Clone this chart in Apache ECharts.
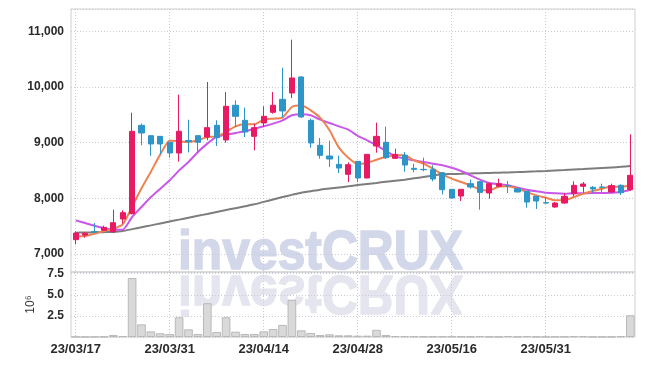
<!DOCTYPE html>
<html>
<head>
<meta charset="utf-8">
<style>html,body{margin:0;padding:0;background:#fff}#c{width:645px;height:366px}</style>
<script src="https://cdn.jsdelivr.net/npm/echarts@6/dist/echarts.min.js"></script>
</head>
<body>
<div id="c"></div>
<script>
const dates = ['23/03/17','23/03/20','23/03/21','23/03/22','23/03/23','23/03/24','23/03/27','23/03/28','23/03/29','23/03/30',
'23/03/31','23/04/03','23/04/04','23/04/05','23/04/06','23/04/07','23/04/10','23/04/11','23/04/12','23/04/13',
'23/04/14','23/04/17','23/04/18','23/04/19','23/04/20','23/04/21','23/04/24','23/04/25','23/04/26','23/04/27',
'23/04/28','23/05/02','23/05/03','23/05/04','23/05/08','23/05/09','23/05/10','23/05/11','23/05/12','23/05/15',
'23/05/16','23/05/17','23/05/18','23/05/19','23/05/22','23/05/23','23/05/24','23/05/25','23/05/26','23/05/30',
'23/05/31','23/06/01','23/06/02','23/06/05','23/06/07','23/06/08','23/06/09','23/06/12','23/06/13','23/06/14'];

const opens  = [7258,7340,7400,7425,7400,7629,7725,9312,9126,9114, 9007,8815,9041,9126,9102,9312,9049,9672,9402,9114,
                9354,9546,9779,9893,10181,9402,8953,8761,8611,8432, 8665,8366,8941,9007,8719,8773,8539,8521,8515,8462,
                8162,8042,8264,8300,8096,8216,8228,8174,8126,8036, 7922,7845,7916,8084,8216,8198,8204,8114,8234,8156];
const closes = [7377,7371,7395,7479,7563,7743,9204,9174,8977,8977, 8815,9204,9020,9007,9270,9090,9654,9474,9192,9270,
                9474,9672,9570,10163,9462,8995,8773,8707,8545,8605, 8366,8791,9114,8731,8791,8599,8521,8515,8348,8156,
                8006,8162,8204,8108,8264,8264,8222,8114,7934,7952, 7916,7916,8036,8234,8258,8168,8198,8228,8102,8414];
const lows   = [7174,7293,7377,7413,7377,7545,7713,8953,8767,8791, 8731,8659,8826,8815,9043,8941,9001,9282,9102,8863,
                9282,9522,9450,9803,9450,8911,8713,8563,8455,8294, 8294,8360,8821,8707,8707,8480,8468,8486,8306,8073,
                8000,7952,8174,7797,7994,8204,8096,8108,7833,7809, 7904,7833,7904,8036,8102,8102,8114,8102,8060,8132];
const highs  = [7407,7395,7557,7509,7797,7785,9540,9342,9130,9120, 9013,9863,9413,9130,10091,9402,9911,9761,9630,9342,
                9654,9911,10348,10851,10193,9432,9085,9037,8767,8647, 8670,8795,9360,9288,8893,8833,8623,8731,8593,8466,
                8166,8166,8336,8304,8268,8354,8312,8204,8130,8040, 8024,7934,8096,8306,8294,8222,8264,8264,8252,9150];

const ma5  = [7317,7323,7365,7413,7455,7533,7850,8180,8480,8790, 9040,9025,9013,9043,9102,9110,9192,9294,9330,9330,
              9414,9432,9450,9642,9672,9582,9450,9222,8911,8731, 8617,8635,8695,8743,8773,8773,8683,8623,8533,8432,
              8354,8294,8234,8156,8144,8210,8216,8174,8114,8054, 8012,7964,7964,8024,8084,8132,8174,8216,8204,8234];
const ma20 = [7605,7557,7509,7467,7437,7437,7665,7845,8024,8174, 8324,8503,8653,8833,8983,9108,9144,9174,9204,9252,
              9294,9342,9402,9492,9510,9492,9414,9354,9294,9234, 9123,9043,8953,8851,8755,8713,8683,8653,8623,8593,
              8551,8492,8414,8336,8276,8255,8234,8192,8156,8126, 8102,8090,8084,8090,8090,8096,8096,8102,8114,8156];
const ma60 = [7383,7386,7390,7393,7397,7413,7447,7481,7515,7550, 7584,7618,7652,7686,7720,7755,7790,7824,7858,7893,
              7937,7980,8024,8063,8102,8129,8156,8176,8196,8216, 8240,8259,8278,8298,8317,8336,8360,8384,8408,8432,
              8437,8442,8448,8452,8456,8460,8466,8472,8479,8485, 8492,8500,8508,8517,8526,8536,8546,8556,8566,8580];

const volumes = [0.03,0.02,0.03,0.05,0.24,0.12,6.98,1.50,0.67,0.44, 0.36,2.34,0.91,0.36,4.00,0.60,2.34,0.63,0.36,0.36,
                 0.67,0.95,1.43,4.40,0.79,0.48,0.24,0.32,0.20,0.20, 0.16,0.16,0.85,0.24,0.12,0.10,0.08,0.06,0.06,0.08,
                 0.07,0.06,0.05,0.10,0.05,0.04,0.10,0.04,0.10,0.03, 0.03,0.04,0.05,0.10,0.10,0.03,0.03,0.04,0.10,2.58];

const priceTicks = [7000, 8000, 9000, 10000, 11000];
const volTicks = [2.5, 5.0, 7.5];

const UP = '#e81a63', DOWN = '#2e95c8';
const GRIDC = '#c9cad6';
const FONT = '"Liberation Sans", Arial, sans-serif';

const candleData = opens.map((o, i) => [o, closes[i], lows[i], highs[i]]);

const chart = echarts.init(document.getElementById('c'), null, {renderer: 'canvas'});

// watermark sizing
const cv = document.createElement('canvas').getContext('2d');
const WM = 'investCRUX';
const wmFont = 'bold 56px "Liberation Sans", Arial, sans-serif';
cv.font = wmFont;
const wmW = cv.measureText(WM).width;
const wmScale = 285 / wmW;
const wmX = 178, wmBase = 272.5, wmY = wmBase - 19.4;

const splitX = {show: true, interval: 9, alignWithLabel: true, lineStyle: {color: GRIDC, type: [1, 2], width: 1}};
const splitY = {show: true, lineStyle: {color: GRIDC, type: [1, 2], width: 1}};
const lblStyle = {color: '#2a2a2a', fontFamily: FONT, fontSize: 12, fontWeight: 'bold'};

chart.setOption({
  animation: false,
  backgroundColor: '#fff',
  graphic: [
    {type: 'text', z: -10, silent: true, x: 0, y: 0, originX: wmX, originY: wmBase, scaleX: wmScale, scaleY: -1,
     style: {text: WM, x: wmX, y: wmY, font: wmFont, fill: '#e4e5ee', stroke: '#e4e5ee', lineWidth: 1.5, verticalAlign: 'middle', textAlign: 'left'}},
    {type: 'text', z: -10, silent: true, x: 0, y: 0, originX: wmX, originY: wmBase, scaleX: wmScale, scaleY: 1,
     style: {text: WM, x: wmX, y: wmY, font: wmFont, fill: '#d2d7e9', stroke: '#d2d7e9', lineWidth: 1.5, verticalAlign: 'middle', textAlign: 'left'}}
  ],
  grid: [
    {left: 71, right: 10, top: 9, height: 263, show: true, borderColor: '#cfcfcf', borderWidth: 1, backgroundColor: 'transparent'},
    {left: 71, right: 10, top: 272, height: 65, show: true, borderColor: '#cfcfcf', borderWidth: 1, backgroundColor: 'transparent'}
  ],
  xAxis: [
    {type: 'category', gridIndex: 0, data: dates, boundaryGap: true,
     axisLine: {show: false}, axisTick: {show: false, alignWithLabel: true}, axisLabel: {show: false, interval: 9},
     splitLine: splitX},
    {type: 'category', gridIndex: 1, data: dates, boundaryGap: true,
     axisLine: {show: false}, axisTick: {show: false, alignWithLabel: true},
     axisLabel: Object.assign({show: true, interval: 9, margin: 6}, lblStyle, {fontSize: 13}),
     splitLine: splitX}
  ],
  yAxis: [
    {type: 'value', gridIndex: 0, min: 6677, max: 11402, splitNumber: 5, scale: true,
     axisLine: {show: false}, axisTick: {show: false},
     axisLabel: Object.assign({margin: 7, showMinLabel: false, showMaxLabel: false,
       formatter: v => priceTicks.includes(v) ? v.toLocaleString('en-US') : ''}, lblStyle),
     splitLine: splitY},
    {type: 'value', gridIndex: 1, min: 0, max: 7.7, interval: 2.5,
     name: '10\u2076', nameLocation: 'middle', nameRotate: 90, nameGap: 26,
     nameTextStyle: {color: '#333', fontFamily: FONT, fontSize: 12},
     axisLine: {show: false}, axisTick: {show: false},
     axisLabel: Object.assign({margin: 7, showMinLabel: false, showMaxLabel: false,
       formatter: v => volTicks.includes(v) ? v.toFixed(1) : ''}, lblStyle),
     splitLine: splitY}
  ],
  series: [
    {type: 'bar', xAxisIndex: 1, yAxisIndex: 1, data: volumes, barCategoryGap: '8%', z: 1,
     itemStyle: {color: '#d9d9d9', borderColor: '#b9b9b9', borderWidth: 1}},
    {type: 'line', xAxisIndex: 0, yAxisIndex: 0, data: ma60, symbol: 'none', smooth: 0.2, z: 3,
     lineStyle: {color: '#7d7d7d', width: 2}},
    {type: 'line', xAxisIndex: 0, yAxisIndex: 0, data: ma20, symbol: 'none', smooth: 0.2, z: 3,
     lineStyle: {color: '#c957e8', width: 2}},
    {type: 'line', xAxisIndex: 0, yAxisIndex: 0, data: ma5, symbol: 'none', smooth: 0.2, z: 4,
     lineStyle: {color: '#ee8352', width: 2}},
    {type: 'candlestick', xAxisIndex: 0, yAxisIndex: 0, data: candleData, barWidth: '62%', z: 5,
     itemStyle: {color: UP, color0: DOWN, borderColor: UP, borderColor0: DOWN, borderWidth: 1}}
  ]
});
</script>
</body>
</html>
